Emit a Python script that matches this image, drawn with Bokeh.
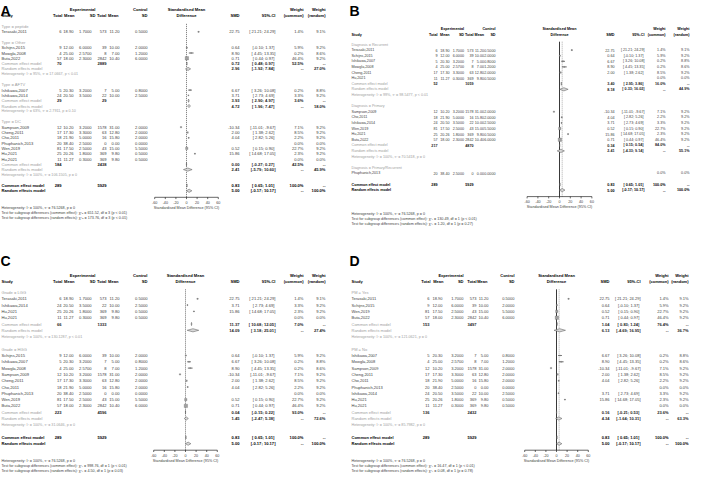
import math
from bokeh.plotting import figure
from bokeh.models import Range1d, ColumnDataSource
from bokeh.core.properties import value
from bokeh.embed import file_html
from bokeh.resources import INLINE

# ------------------------------------------------------------------ data
study = ["Terasaki,2011", "Schijns,2015", "Ishikawa,2007", "Mowgla,2008", "Sampson,2009",
         "Cheng,2011", "Cho,2011", "Phuphanich,2013", "Ishikawa,2014", "Wen,2019",
         "Hu,2021", "Hu,2021", "Buta,2022"]
exp_n = [6, 9, 5, 4, 12, 17, 18, 20, 24, 81, 25, 11, 57]
exp_mean = [18.90, 12.00, 20.30, 25.00, 10.20, 17.30, 21.90, 38.40, 20.50, 17.50, 20.26, 11.27, 18.00]
exp_sd = [1.7, 6.0, 3.2, 2.57, 3.2, 3.3, 5.0, 2.5, 3.5, 2.5, 1.8, 0.3, 2.3]
ctrl_n = [573, 39, 7, 8, 1578, 63, 16, 0, 22, 43, 369, 369, 2842]
ctrl_mean = [11.20, 10.00, 5.00, 7.00, 31.00, 12.80, 15.80, 0.00, 10.00, 15.00, 9.80, 9.80, 10.40]
ctrl_sd = [0.5, 2.0, 0.8, 1.2, 2.0, 2.0, 2.0, 0.0, 2.5, 5.5, 0.5, 0.5, 6.0]
smd = [22.75, 0.64, 6.67, 8.90, -10.34, 2.00, 4.04, None, 3.71, 0.52, 15.86, None, 0.71]
smd_lo = [21.21, -0.10, 3.26, 4.45, -11.01, 1.38, 2.82, None, 2.73, 0.15, 14.68, None, 0.44]
smd_hi = [24.29, 1.37, 10.08, 13.35, -9.67, 2.62, 5.26, None, 4.69, 0.90, 17.05, None, 0.97]
w_common = [1.4, 5.9, 0.2, 0.2, 7.1, 8.5, 2.2, 0.0, 3.3, 22.7, 2.3, 0.0, 46.4]
w_random = [9.1, 9.2, 8.8, 8.6, 9.2, 9.2, 9.2, 0.0, 9.2, 9.2, 9.2, 0.0, 9.2]

overall_n = [289, 5929]
overall_common = [0.83, 0.65, 1.01]
overall_random = [5.00, -0.17, 10.17]
overall_het = "I² = 100%, τ² = 76.5268, p = 0"
smd_ticks = [-60, -40, -20, 0, 20, 40, 60]

# panel A: Type
A_sub = ["Type = peptide", "Type = Other", "Type = AFTV", "Type = DC"]
A_idx = [[0], [1, 3, 12], [2, 8], [4, 5, 6, 7, 9, 10, 11]]
A_n_exp = [None, 70, 29, 184]
A_n_ctrl = [None, 2889, 29, 2438]
A_ce = [None, [0.72, 0.48, 0.97], [3.93, 2.90, 4.97], [0.00, -0.27, 0.27]]
A_re = [None, [2.96, -1.92, 7.84], [4.72, 1.96, 7.47], [2.41, -5.79, 10.60]]
A_wc = [None, 52.5, 3.6, 42.5]
A_wr = [None, 27.0, 18.0, 45.9]
A_het = [None, "I² = 95%, τ² = 17.0667, p < 0.01", "I² = 63%, τ² = 2.7911, p = 0.10",
         "I² = 100%, τ² = 106.1505, p = 0"]
A_test = [3, 651.52, "< 0.01", 173.76, "< 0.01"]

# panel B: Diagnosis
B_sub = ["Diagnosis = Recurrent", "Diagnosis = Primary", "Diagnosis = Primary/Recurrent"]
B_idx = [[0, 1, 2, 3, 5, 11], [4, 6, 8, 9, 10, 12], [7]]
B_n_exp = [52, 217, None]
B_n_ctrl = [1059, 4870, None]
B_ce = [[3.40, 2.95, 3.86], [0.34, 0.15, 0.54], None]
B_re = [[8.18, 0.33, 16.02], [2.41, -4.33, 9.14], None]
B_wc = [16.0, 84.0, None]
B_wr = [44.9, 55.1, None]
B_het = ["I² = 99%, τ² = 98.5477, p < 0.01", "I² = 100%, τ² = 70.5418, p = 0", None]
B_test = [1, 130.49, "< 0.01", 1.20, "= 0.27"]

# panel C: Grade
C_sub = ["Grade = LGG", "Grade = HGG"]
C_idx = [[0, 8, 10, 11], [1, 2, 3, 4, 5, 6, 7, 9, 12]]
C_n_exp = [66, 223]
C_n_ctrl = [1333, 4596]
C_ce = [[11.37, 10.68, 12.05], [0.04, -0.15, 0.22]]
C_re = [[14.09, 3.18, 25.01], [1.45, -2.47, 5.38]]
C_wc = [7.0, 93.0]
C_wr = [27.4, 72.6]
C_het = ["I² = 100%, τ² = 130.1287, p < 0.01", "I² = 100%, τ² = 31.0646, p = 0"]
C_test = [1, 998.76, "< 0.01", 4.50, "= 0.03"]

# panel D: PM
D_sub = ["PM = Yes", "PM = No"]
D_idx = [[0, 1, 9, 12], [2, 3, 4, 5, 6, 7, 8, 10, 11]]
D_n_exp = [153, 136]
D_n_ctrl = [3497, 2432]
D_ce = [[1.04, 0.83, 1.24], [0.16, -0.21, 0.53]]
D_re = [[6.13, -4.69, 16.95], [4.34, -1.64, 10.31]]
D_wc = [76.4, 23.6]
D_wr = [36.7, 63.3]
D_het = ["I² = 100%, τ² = 121.0621, p = 0", "I² = 100%, τ² = 85.7982, p = 0"]
D_test = [1, 16.47, "< 0.01", 0.08, "= 0.78"]

# ------------------------------------------------------------------ layout / style
FONT = "Liberation Sans"
X0, X1, Y0, Y1 = 8, 700, 8, 489      # canvas units == page pixels
GREY = "#a0a0a0"
DARK = "#404040"

COLS_AC = dict(st=9, en=69, em=81, es=99, cn=114, cm=127, cs=155,
               hen=70, hem=82, hes=103, hcn=114, hcm=126, hcs=155,
               smd=247, ci=283, wc=311, wr=333, fk=0.53, fs="4.1px")
COLS_B = dict(st=359, en=445, em=457, es=471.5, cn=481, cm=491.5, cs=503,
              hen=445, hem=457, hes=471.5, hcn=481, hcm=491.5, hcs=503,
              smd=622, ci=652, wc=673, wr=697, fk=0.54, fs="3.7px")
COLS_D = dict(st=359, en=437, em=450, es=471, cn=484, cm=496, cs=522,
              hen=438, hem=451, hes=471, hcn=484, hcm=495, hcs=522,
              smd=617, ci=648, wc=676, wr=696, fk=0.53, fs="4.0px")
LAY = {
    "A": dict(COLS_AC, label="A", lx=8, ly=18.5, hy1=17, hy2=23, y0=34, rh=5.3,
              fx=194, het_gap=0, ref_solid=False),
    "B": dict(COLS_B, label="B", lx=357, ly=18.5, hy1=36, hy2=42, y0=52, rh=5.6,
              fx=567, het_gap=7, ref_solid=True),
    "C": dict(COLS_AC, label="C", lx=8, ly=268, hy1=283, hy2=289, y0=300, rh=6.3,
              fx=193, het_gap=0, ref_solid=False),
    "D": dict(COLS_D, label="D", lx=357, ly=268, hy1=283, hy2=289, y0=300, rh=6.3,
              fx=564, het_gap=0, ref_solid=True),
}

p = figure(width=X1 - X0, height=Y1 - Y0, x_range=Range1d(X0, X1), y_range=Range1d(Y1, Y0),
           output_backend="svg", toolbar_location=None, min_border=0,
           x_axis_location=None, y_axis_location=None)
p.grid.visible = False
p.outline_line_color = None

T = dict(x=[], y=[], text=[], align=[], color=[], style=[], size=[])
PL = dict(x=[], y=[], text=[])


def txt(x, y, s, size, align="left", color=DARK, style="normal"):
    T["x"].append(x); T["y"].append(y); T["text"].append(s)
    T["align"].append(align); T["color"].append(color)
    T["style"].append(style); T["size"].append(size)


def fci(lo, hi):
    a = f"{lo:.2f}"
    if lo >= 0:
        a = " " + a
    b = f"{hi:.2f}"
    if 0 <= hi < 10:
        b = " " + b
    return f"[{a}; {b}]"


def panel(L, subs, idx, n_e, n_c, ce, re_, wc, wr, het, test, rng):
    fs = L["fs"]
    hs = "3.7px"
    p.extra_x_ranges[rng] = Range1d((X0 - L["fx"]) / L["fk"], (X1 - L["fx"]) / L["fk"])
    PL["x"].append(L["lx"]); PL["y"].append(L["ly"]); PL["text"].append(L["label"])
    # header
    h1, h2 = L["hy1"], L["hy2"]
    B = dict(color="black", style="bold")
    txt(L["hes"], h1, "Experimental", fs, "right", **B)
    txt(L["hcs"], h1, "Control", fs, "right", **B)
    txt(L["fx"], h1, "Standardised Mean", fs, "center", **B)
    txt(L["wc"], h1, "Weight", fs, "right", **B)
    txt(L["wr"], h1, "Weight", fs, "right", **B)
    txt(L["st"], h2, "Study", fs, **B)
    for key, lab in (("hen", "Total"), ("hem", "Mean"), ("hes", "SD"),
                     ("hcn", "Total"), ("hcm", "Mean"), ("hcs", "SD")):
        txt(L[key], h2, lab, fs, "right", **B)
    txt(L["fx"], h2, "Difference", fs, "center", **B)
    txt(L["smd"], h2, "SMD", fs, "right", **B)
    txt(L["ci"], h2, "95%-CI", fs, "right", **B)
    txt(L["wc"], h2, "(common)", fs, "right", **B)
    txt(L["wr"], h2, "(random)", fs, "right", **B)

    rows = []
    for g, lab in enumerate(subs):
        rows.append(("sub", g))
        for i in idx[g]:
            rows.append(("study", i))
        if len(idx[g]) > 1:
            rows += [("gce", g), ("gre", g), ("ghet", g)]
        rows.append(("blank", None))
    rows += [("oce", None), ("ore", None)]

    sq = dict(x=[], y=[], s=[])
    seg = dict(x0=[], x1=[], y=[])
    dia = dict(xs=[], ys=[])
    dh = 1.6

    def summary(y, label, lab_style, n_pair, est3, wtxt_c, wtxt_r, num_color):
        txt(L["st"], y, label, fs, **lab_style)
        if n_pair is not None:
            txt(L["en"], y, str(n_pair[0]), fs, "right", color=num_color, style="bold")
            txt(L["cn"], y, str(n_pair[1]), fs, "right", color=num_color, style="bold")
        est, lo, hi = est3
        txt(L["smd"], y, f"{est:.2f}", fs, "right", color=num_color, style="bold")
        txt(L["ci"], y, fci(lo, hi), fs, "right", color=num_color, style="bold")
        txt(L["wc"], y, wtxt_c, fs, "right", color=num_color, style="bold")
        txt(L["wr"], y, wtxt_r, fs, "right", color=num_color, style="bold")
        dia["xs"].append([lo, est, hi, est]); dia["ys"].append([y, y - dh, y, y + dh])

    for r, (kind, d) in enumerate(rows):
        y = L["y0"] + r * L["rh"]
        if kind == "sub":
            txt(L["st"], y, subs[d], fs, color=GREY)
        elif kind == "study":
            i = d
            txt(L["st"], y, study[i], fs)
            txt(L["en"], y, str(exp_n[i]), fs, "right")
            txt(L["em"], y, f"{exp_mean[i]:.2f}", fs, "right")
            txt(L["es"], y, f"{exp_sd[i]:.4f}", fs, "right")
            txt(L["cn"], y, str(ctrl_n[i]), fs, "right")
            txt(L["cm"], y, f"{ctrl_mean[i]:.2f}", fs, "right")
            txt(L["cs"], y, f"{ctrl_sd[i]:.4f}", fs, "right")
            if smd[i] is not None:
                txt(L["smd"], y, f"{smd[i]:.2f}", fs, "right")
                txt(L["ci"], y, fci(smd_lo[i], smd_hi[i]), fs, "right")
                sq["x"].append(smd[i]); sq["y"].append(y)
                sq["s"].append(max(1.0, 3.4 * math.sqrt(w_common[i] / 46.4)))
                seg["x0"].append(smd_lo[i]); seg["x1"].append(smd_hi[i]); seg["y"].append(y)
            txt(L["wc"], y, f"{w_common[i]:.1f}%", fs, "right")
            txt(L["wr"], y, f"{w_random[i]:.1f}%", fs, "right")
        elif kind == "gce":
            summary(y, "Common effect model", dict(color=GREY), (n_e[d], n_c[d]), ce[d],
                    f"{wc[d]:.1f}%", "--", "#1a1a1a")
        elif kind == "gre":
            summary(y, "Random effects model", dict(color=GREY), None, re_[d],
                    "--", f"{wr[d]:.1f}%", "#1a1a1a")
        elif kind == "ghet":
            txt(L["st"], y, "Heterogeneity: " + het[d], hs, color=GREY)
        elif kind == "oce":
            summary(y, "Common effect model", dict(color="black", style="bold"), overall_n,
                    overall_common, "100.0%", "--", "black")
        elif kind == "ore":
            summary(y, "Random effects model", dict(color="black", style="bold"), None,
                    overall_random, "--", "100.0%", "black")
    y_last = L["y0"] + (len(rows) - 1) * L["rh"]
    y_top = L["y0"] - L["rh"] * 0.5
    y_ax = y_last + 6.5

    # reference lines
    if L["ref_solid"]:
        p.segment(x0=[0], y0=[y_top], x1=[0], y1=[y_ax], x_range_name=rng,
                  line_color="#222222", line_width=0.9)
        p.segment(x0=[overall_random[0]], y0=[y_top], x1=[overall_random[0]], y1=[y_ax],
                  x_range_name=rng, line_color="#777777", line_width=0.6, line_dash="1 1")
    else:
        p.segment(x0=[0], y0=[y_top], x1=[0], y1=[y_ax], x_range_name=rng,
                  line_color="#333333", line_width=0.7, line_dash="1 1")

    p.segment(x0="x0", y0="y", x1="x1", y1="y", source=ColumnDataSource(seg),
              x_range_name=rng, line_color="black", line_width=0.6)
    p.scatter(x="x", y="y", size="s", source=ColumnDataSource(sq), marker="square",
              x_range_name=rng, fill_color="#a0a0a0", line_color="#6a6a6a", line_width=0.3)
    p.patches(xs="xs", ys="ys", source=ColumnDataSource(dia), x_range_name=rng,
              fill_color="#d8d8d8", line_color="#555555", line_width=0.5)

    # axis
    t0, t1 = smd_ticks[0], smd_ticks[-1]
    n = len(smd_ticks)
    p.segment(x0=[t0], y0=[y_ax], x1=[t1], y1=[y_ax], x_range_name=rng,
              line_color="black", line_width=0.6)
    p.segment(x0=smd_ticks, y0=[y_ax] * n, x1=smd_ticks, y1=[y_ax + 1.8] * n,
              x_range_name=rng, line_color="black", line_width=0.6)
    p.text(x=smd_ticks, y=[y_ax + 5.3] * n, text=[str(t) for t in smd_ticks],
           x_range_name=rng, text_font=value(FONT), text_font_size="3.7px",
           text_align="center", text_baseline="middle", text_color=DARK)
    y_title = y_ax + 10.5
    p.text(x=[0], y=[y_title], text=["Standardised Mean Difference (95% CI)"],
           x_range_name=rng, text_font=value(FONT), text_font_size="3.7px",
           text_align="center", text_baseline="middle", text_color=DARK)

    y_het = y_title + L["het_gap"]
    df, qc, pc, qr, pr = test
    sub_df = "₁₂₃₄"[df - 1]
    txt(L["st"], y_het, "Heterogeneity: " + overall_het, hs)
    txt(L["st"], y_het + 5.0,
        f"Test for subgroup differences (common effect): χ²{sub_df} = {qc:.2f}, df = {df} (p {pc})", hs)
    txt(L["st"], y_het + 10.0,
        f"Test for subgroup differences (random effects): χ²{sub_df} = {qr:.2f}, df = {df} (p {pr})", hs)


panel(LAY["A"], A_sub, A_idx, A_n_exp, A_n_ctrl, A_ce, A_re, A_wc, A_wr, A_het, A_test, "fa")
panel(LAY["B"], B_sub, B_idx, B_n_exp, B_n_ctrl, B_ce, B_re, B_wc, B_wr, B_het, B_test, "fb")
panel(LAY["C"], C_sub, C_idx, C_n_exp, C_n_ctrl, C_ce, C_re, C_wc, C_wr, C_het, C_test, "fc")
panel(LAY["D"], D_sub, D_idx, D_n_exp, D_n_ctrl, D_ce, D_re, D_wc, D_wr, D_het, D_test, "fd")

p.text(x="x", y="y", text="text", source=ColumnDataSource(T),
       text_align="align", text_color="color", text_font_style="style",
       text_font_size="size", text_font=value(FONT), text_baseline="middle")
p.text(x="x", y="y", text="text", source=ColumnDataSource(PL),
       text_align="left", text_color="black", text_font_style="bold",
       text_font_size="14px", text_font=value(FONT), text_baseline="alphabetic")

open("out.html", "w").write(file_html(p, INLINE))
